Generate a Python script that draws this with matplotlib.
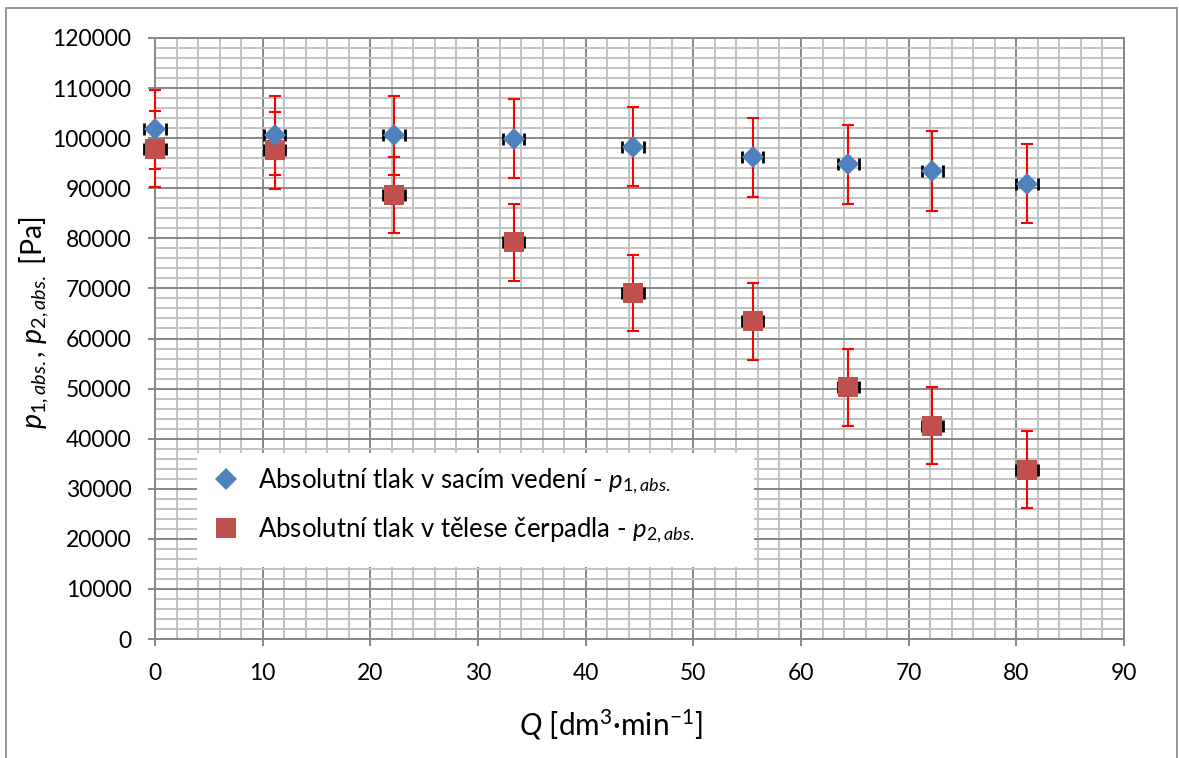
import matplotlib
matplotlib.use("Agg")
import matplotlib.pyplot as plt
from matplotlib.lines import Line2D
from matplotlib.patches import Rectangle
from matplotlib.ticker import MultipleLocator

plt.rcParams['font.family'] = ['Lato', 'DejaVu Sans']
plt.rcParams['mathtext.fontset'] = 'custom'
plt.rcParams['mathtext.rm'] = 'Lato'
plt.rcParams['mathtext.it'] = 'Lato:italic'

# flow rate Q [dm3/min]
Q = [0, 11.1, 22.2, 33.3, 44.4, 55.5, 64.4, 72.2, 81.0]
# absolute pressure in suction line / pump body [Pa]
p1 = [101750, 100600, 100550, 99900, 98250, 96150, 94800, 93450, 90900]
p2 = [97850, 97600, 88650, 79200, 69100, 63450, 50250, 42600, 33800]
p1_err = 7900
p2_err = 7650
Q_err = 1.0

label1 = r"Absolutní tlak v sacím vedení - $p_{\mathit{1,abs.}}$"
label2 = r"Absolutní tlak v tělese čerpadla - $p_{\mathit{2,abs.}}$"

blue = "#4F81BD"
red = "#C0504D"
grid_major = "#878787"
grid_minor = "#c2c2c2"

W, H = 1179, 758
fig = plt.figure(figsize=(W/100, H/100), dpi=100)
ax = fig.add_axes([155/W, 1 - 639/H, 969/W, 601/H])

# outer chart border like excel
fig.patches.append(Rectangle((6/W, -0.02), 1171/W, (750/H) + 0.02,
                             transform=fig.transFigure, fill=False,
                             edgecolor="#8c8c8c", lw=1.3))

ax.set_xlim(0, 90)
ax.set_ylim(0, 120000)
ax.xaxis.set_major_locator(MultipleLocator(10))
ax.xaxis.set_minor_locator(MultipleLocator(2))
ax.yaxis.set_major_locator(MultipleLocator(10000))
ax.yaxis.set_minor_locator(MultipleLocator(2000))
ax.ticklabel_format(style='plain', useOffset=False)

ax.grid(which='minor', color=grid_minor, lw=1.4, zorder=0)
ax.grid(which='major', color=grid_major, lw=1.4, zorder=0.5)
ax.set_axisbelow(True)

for s in ax.spines.values():
    s.set_color(grid_major)
    s.set_linewidth(1.4)

ax.tick_params(which='major', direction='out', length=5, width=1.4,
               color=grid_major, labelsize=16.5, pad=12)
ax.tick_params(which='minor', length=0)

# error bars
ax.errorbar(Q, p1, yerr=p1_err, fmt='none', ecolor='red', elinewidth=1.5,
            capsize=4.3, capthick=1.5, clip_on=False, zorder=3)
ax.errorbar(Q, p2, yerr=p2_err, fmt='none', ecolor='red', elinewidth=1.5,
            capsize=4.3, capthick=1.5, clip_on=False, zorder=3)
ax.errorbar(Q, p1, xerr=Q_err, fmt='none', ecolor='black', elinewidth=1.2,
            capsize=4.0, capthick=2.0, clip_on=False, zorder=3)
ax.errorbar(Q, p2, xerr=Q_err, fmt='none', ecolor='black', elinewidth=1.2,
            capsize=4.0, capthick=2.0, clip_on=False, zorder=3)

ax.plot(Q, p1, 'D', ms=11, color=blue, mew=0, clip_on=False, zorder=5)
ax.plot(Q, p2, 's', ms=14.8, color=red, mew=0, clip_on=False, zorder=4)

ax.set_xlabel(r"$Q$ [dm$^{3}$·min$^{-1}$]", fontsize=21.5)
ax.xaxis.set_label_coords((611-155)/969, (639-707)/601)
ax.set_ylabel(r"$p_{\mathit{1,abs.}}$, $p_{\mathit{2,abs.}}$ [Pa]", fontsize=20.5)
ax.yaxis.set_label_coords((51-155)/969, (639-323)/601)

# white legend box
ax.add_patch(Rectangle(((197-155)/969, (639-567)/601), (754-197)/969, (567-453)/601,
                       transform=ax.transAxes, facecolor='white', edgecolor='none',
                       zorder=5.5))

handles = [Line2D([], [], ls='none', marker='D', ms=11, color=blue, mew=0),
           Line2D([], [], ls='none', marker='s', ms=14.8, color=red, mew=0)]
leg = ax.legend(handles, [label1, label2], loc='center left',
                bbox_to_anchor=((210-155)/969, (639-506)/601), fontsize=18.5,
                frameon=False, handletextpad=0.6, handlelength=1.25,
                labelspacing=0.75, borderpad=0, borderaxespad=0)
leg.set_zorder(6)

fig.savefig("out.png", dpi=100)
